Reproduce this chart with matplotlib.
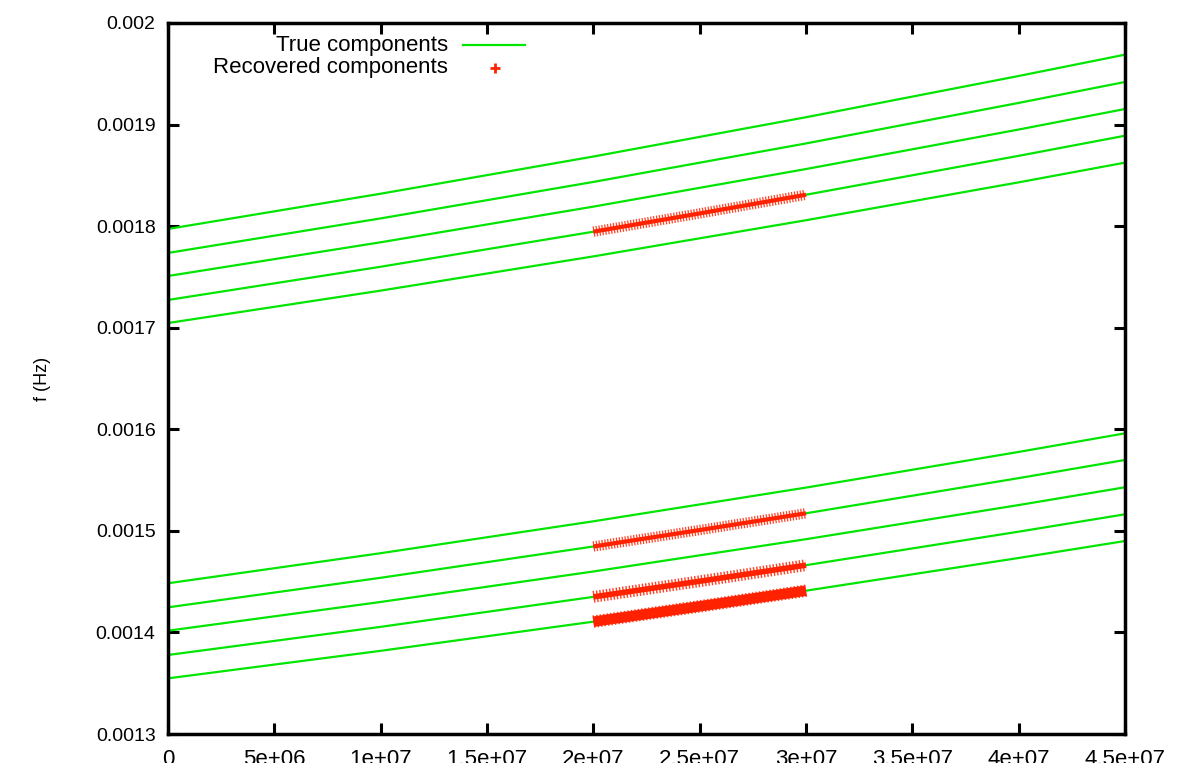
import numpy as np
import matplotlib
matplotlib.use("Agg")
import matplotlib.pyplot as plt
from matplotlib.lines import Line2D

plt.rcParams['font.family'] = ['Liberation Sans', 'DejaVu Sans']

# true components at a few times
t_grid = [0, 1e7, 2e7, 3e7, 4e7, 4.5e7]

upper_tracks = [
    [0.0017972, 0.0018319, 0.0018685, 0.0019072, 0.0019478, 0.0019688],
    [0.0017736, 0.0018076, 0.0018435, 0.0018814, 0.0019213, 0.0019419],
    [0.0017509, 0.0017841, 0.0018192, 0.0018562, 0.0018951, 0.0019153],
    [0.0017273, 0.0017600, 0.0017945, 0.0018309, 0.0018692, 0.0018890],
    [0.0017046, 0.0017365, 0.0017702, 0.0018058, 0.0018431, 0.0018625],
]
lower_tracks = [
    [0.0014484, 0.0014780, 0.0015094, 0.0015426, 0.0015777, 0.0015960],
    [0.0014247, 0.0014538, 0.0014846, 0.0015173, 0.0015519, 0.0015698],
    [0.0014017, 0.0014300, 0.0014600, 0.0014918, 0.0015254, 0.0015429],
    [0.0013778, 0.0014055, 0.0014350, 0.0014662, 0.0014992, 0.0015163],
    [0.0013548, 0.0013819, 0.0014106, 0.0014411, 0.0014733, 0.0014900],
]

# recovered components (dense '+' tracks between 2e7 and 3e7)
t_rec = [2e7, 2.5e7, 3e7]
rec_tracks = [
    [0.0017945, 0.0018125, 0.0018309],
    [0.0014846, 0.0015008, 0.0015173],
    [0.0014350, 0.0014504, 0.0014662],
    [0.0014106, 0.0014257, 0.0014411],
]
rec_core_lw = [3.0, 3.0, 4.0, 7.5]
rec_comb_lw = [7.5, 7.5, 8.5, 9.0]

x_ticks = [0, 5e6, 1e7, 1.5e7, 2e7, 2.5e7, 3e7, 3.5e7, 4e7, 4.5e7]
x_labels = ["0", "5e+06", "1e+07", "1.5e+07", "2e+07", "2.5e+07",
            "3e+07", "3.5e+07", "4e+07", "4.5e+07"]
y_ticks = [0.0013, 0.0014, 0.0015, 0.0016, 0.0017, 0.0018, 0.0019, 0.002]
y_labels = ["0.0013", "0.0014", "0.0015", "0.0016", "0.0017",
            "0.0018", "0.0019", "0.002"]

green = '#00e600'
red = '#ff2200'

fig = plt.figure(figsize=(11.9, 7.63), dpi=100)
ax = fig.add_axes([0.1412, 0.038, 0.8042, 0.9319])

for tr in upper_tracks + lower_tracks:
    ax.plot(t_grid, tr, color=green, lw=1.6, zorder=2)

for tr, lw1, lw2 in zip(rec_tracks, rec_core_lw, rec_comb_lw):
    ax.plot(t_rec, tr, color=red, lw=lw1, solid_capstyle='butt', zorder=3)
    ax.plot(t_rec, tr, color=red, lw=lw2, dashes=(0.12, 0.16),
            dash_capstyle='butt', alpha=0.85, zorder=3)

ax.set_xlim(0, 4.5e7)
ax.set_ylim(0.0013, 0.002)
ax.set_xticks(x_ticks)
ax.set_xticklabels(x_labels)
ax.set_yticks(y_ticks)
ax.set_yticklabels(y_labels)
ax.tick_params(direction='in', length=8, width=2.2, top=True, right=True)
ax.tick_params(axis='x', labelsize=16, pad=11)
ax.tick_params(axis='y', labelsize=14, pad=9)
for s in ax.spines.values():
    s.set_linewidth(2.5)

ax.set_ylabel("f (Hz)", fontsize=13, labelpad=32)

# gnuplot-style key: text right-aligned, sample to the right
tr_ax = ax.transAxes
ax.text(0.2926, 0.969, "True components", transform=tr_ax, ha='right',
        va='center', fontsize=16)
ax.text(0.2926, 0.9367, "Recovered components", transform=tr_ax, ha='right',
        va='center', fontsize=16)
ax.add_line(Line2D([0.3083, 0.373], [0.969, 0.969], transform=tr_ax,
                   color=green, lw=1.6))
ax.add_line(Line2D([0.3417], [0.9367], transform=tr_ax, color=red,
                   marker='+', ms=7, mew=2))

fig.savefig("out.png", dpi=100)
